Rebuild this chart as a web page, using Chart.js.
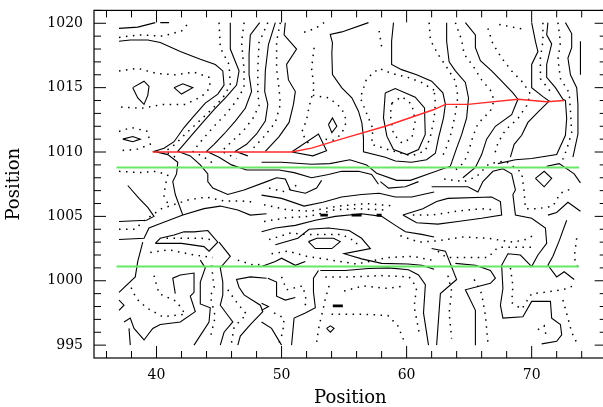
<!DOCTYPE html>
<html>
<head>
<meta charset="utf-8">
<script src="https://cdn.jsdelivr.net/npm/chart.js@4"></script>
<style>
  html, body { margin: 0; padding: 0; background: #fff; overflow: hidden; }
</style>
</head>
<body>
<canvas id="chart" width="610" height="407"></canvas>
<script>
'use strict';

// axis ticks
var xTicks = [40, 50, 60, 70];
var yTicks = [995, 1000, 1005, 1010, 1015, 1020];

// ridge line (red) and the two guide lines (green)
var ridgeLine = [[39.7, 1010], [50.8, 1010], [52.4, 1010.3], [55.1, 1011.1], [58.3, 1012], [62.2, 1013.3],
  [63.1, 1013.7], [64.9, 1013.7], [68.9, 1014.1], [71.2, 1013.9], [72.6, 1014]];
var guideUpper = [[36.8, 1008.8], [73.8, 1008.8]];
var guideLower = [[36.8, 1001.1], [73.8, 1001.1]];

// solid contours, upper half
var solidUpper = [
  [[37, 1019.6], [38.5, 1019.7], [39.9, 1020.05]],
  [[40.3, 1020.05], [41, 1020.05]],
  [[37, 1018.6], [37.9, 1018.7], [39.3, 1018.7], [40.3, 1018.5], [41.9, 1017.8], [43.5, 1017.2], [44.7, 1016.8],
    [45.3, 1016.3], [45.4, 1015.2], [44.9, 1014.5], [43.9, 1013.8], [43, 1012.8], [42.2, 1011.9], [41.4, 1010.8],
    [40.6, 1010.3], [39.8, 1010.05], [40.9, 1009.8], [41.7, 1009.2], [41.6, 1008.3], [41.3, 1007.7], [41.5, 1006.7], [42.1, 1005.1]],
  [[38.1, 1015], [39, 1015.5], [39.4, 1015.1], [39.3, 1014.4], [39, 1013.7], [38.5, 1014.2], [38.1, 1015]],
  [[41.4, 1015], [42.1, 1015.3], [42.9, 1015], [42, 1014.5], [41.4, 1015]],
  [[37.3, 1011], [38.1, 1011.2], [38.7, 1011], [38.1, 1010.8], [37.3, 1011]],
  [[45.9, 1020.05], [45.9, 1018], [46.6, 1016.3], [46.4, 1015.2], [45.6, 1014.3], [44.6, 1013.3], [43.7, 1012.3],
    [42.8, 1011.3], [42.1, 1010.5], [41.7, 1010.05], [42.7, 1009.7], [43.5, 1009], [44.1, 1008.3], [44.1, 1007.7],
    [44.5, 1007.2], [45.7, 1006.7], [47, 1007.05], [48.8, 1007.7], [49.6, 1008], [50.3, 1007.9], [50.7, 1007.05],
    [51.9, 1006.8], [52.8, 1007.2], [53.2, 1007.8]],
  [[48.25, 1020.05], [47.5, 1019.1], [47.4, 1017.6], [47.4, 1016], [47.6, 1014.7], [47.1, 1013.4], [46.3, 1012.4],
    [45.4, 1011.4], [44.6, 1010.6], [44, 1010.05], [45, 1009.6], [46, 1009], [47.2, 1008.6], [48.4, 1008.6],
    [49.8, 1008.6], [51, 1008.4], [52.4, 1008], [53.75, 1008.25], [54.8, 1008.5], [56.15, 1008.5], [57.2, 1008.25], [57.75, 1007.5]],
  [[49.5, 1020.05], [48.95, 1018.35], [48.7, 1016.3], [48.65, 1014.7], [48.9, 1013.7], [48.7, 1012.4], [48, 1011.4],
    [47.2, 1010.6], [46.3, 1010.05], [47.3, 1009.7]],
  [[50.3, 1020.05], [50.2, 1019.1], [51.2, 1018], [50.4, 1016.8], [50.55, 1015.6], [51.1, 1014.7], [50.95, 1013.7],
    [50.6, 1012.3], [49.8, 1011.2], [48.7, 1010.05]],
  [[50.8, 1010], [52.95, 1011.4], [53.6, 1010.1], [52.5, 1009.7], [50.8, 1010]],
  [[53.75, 1012.13], [54.07, 1012.65], [54.42, 1012], [54.02, 1011.5], [53.75, 1012.13]],
  [[56.95, 1020.05], [54.82, 1019.33], [53.89, 1019.13], [54.07, 1018.48], [54.02, 1017.7], [54.07, 1016.02],
    [54.82, 1014.98], [55.62, 1014.21], [56.15, 1013.17], [56.42, 1012.26], [56.55, 1011.1], [56.55, 1010.01],
    [58.3, 1009.6], [59.1, 1009.3], [60.4, 1009.2], [61.6, 1009.4], [62.3, 1009.9], [62.55, 1011.1], [62.95, 1012.65],
    [63.1, 1013.7], [62.9, 1014.6], [62, 1015.5], [60.8, 1016], [59.6, 1016.4], [58.8, 1016.8], [58.8, 1018.6], [58.95, 1020.05]],
  [[58.29, 1014.59], [59.09, 1014.93], [60.69, 1014.26], [61.43, 1013.43], [61.49, 1011.36], [60.95, 1010.19],
    [60.02, 1009.8], [58.95, 1010.19], [58.42, 1011.23], [58.15, 1012.65], [58.29, 1014.59]],
  [[63.2, 1020.05], [63.2, 1018.6], [63.4, 1017], [63.9, 1016.3], [64.7, 1015.4], [64.95, 1014.2], [64.9, 1013.7],
    [64.8, 1012.65], [64.4, 1011.35], [64, 1010.3], [63.5, 1008.9], [61.9, 1008.35], [60.3, 1007.8], [59.2, 1007.8],
    [57.6, 1008.35], [56.8, 1009], [55.46, 1009.4], [53.86, 1009.1], [52.4, 1009.05], [50, 1009.2], [48.4, 1009.2]],
  [[64.7, 1020.05], [65.5, 1019.1], [65.5, 1018.1], [65.9, 1017.1], [66.8, 1016.3], [67.6, 1015.5], [68.5, 1014.6],
    [68.9, 1014.1], [68.4, 1012.9], [67.1, 1012], [66.4, 1011], [66, 1009.8], [65.5, 1008.8], [64.5, 1008]],
  [[70, 1020.05], [70.3, 1018.6], [70.5, 1017.8], [70, 1016.8], [70, 1015], [70.9, 1014.3], [71.4, 1013.95],
    [70.6, 1013.2], [69.7, 1012.3], [69.2, 1011.3], [68.6, 1010.6], [68.3, 1009.6]],
  [[71.3, 1020.05], [71.2, 1019.1], [71.6, 1018.4], [71.2, 1016.8], [71.2, 1015.8], [71.9, 1015], [72.5, 1014.1],
    [72.7, 1014], [72.8, 1012.6], [72.7, 1011.3], [72, 1009.8], [70, 1009.5], [68.7, 1009.4], [67.3, 1009.1]],
  [[72.7, 1020.05], [73.2, 1019.2], [73.2, 1018.1], [72.9, 1017.3], [73.1, 1016], [73.6, 1015], [73.7, 1013.7],
    [73.7, 1011.4], [73.3, 1009.6]],
  [[73.9, 1018.6], [73.9, 1016]]
];

// solid contours, lower half
var solidLower = [
  [[37.7, 1007.4], [38.6, 1006.4], [39.3, 1005.7], [39.8, 1005], [39.2, 1004.7], [37, 1004.6]],
  [[37, 1003.2], [39, 1003.3], [39.4, 1004.1], [39.9, 1004.3], [42.1, 1005.1], [43.8, 1005.6], [45.1, 1005.8],
    [46.5, 1005.5], [47.5, 1005.1], [48.8, 1005.2]],
  [[48.4, 1003.8], [49.5, 1004.1], [51.1, 1004.3], [52.7, 1004.7], [54.3, 1005], [56.4, 1005.2], [58, 1005],
    [59.1, 1004.3], [59.9, 1003.8], [61.2, 1003.6], [62.2, 1003.4]],
  [[39.9, 1002.9], [40.3, 1003.3], [41.4, 1003.55], [42.2, 1003.8], [43, 1003.8], [44.1, 1003.9], [44.9, 1003],
    [44.2, 1002.3], [43.8, 1002.65], [42, 1002.9], [40.5, 1002.9], [39.9, 1002.9]],
  [[38.9, 1003], [38.5, 1001.5], [38.3, 1000.3], [37, 999.1]],
  [[37, 998.5], [37.4, 998.1], [37, 997.7]],
  [[37.8, 996.3], [37.9, 995]],
  [[41.5, 999], [41.3, 1000.2], [41.9, 1000.45], [43, 1000.6], [43, 999.1], [42.7, 998.8], [43.1, 997.6],
    [41.9, 996.8], [40.3, 996.6], [39.7, 996.3], [39, 995.4], [38.2, 996.3], [37.9, 997.1], [37.4, 996.8]],
  [[43.5, 1001.6], [43.9, 1001], [43.5, 999.9], [43.5, 998.2], [44.3, 997.9], [44.2, 996.8], [43, 995]],
  [[45, 1003], [45.9, 1001.9], [45.1, 1001], [45.3, 999.9], [45.3, 998.9], [45.1, 998.1], [46.1, 996.8],
    [45.4, 996], [45.1, 995]],
  [[48.8, 1000.2], [47.5, 1000.3], [46.4, 1000.1], [46.6, 999.5], [47, 998.9], [48.3, 998.1], [48.5, 997.6],
    [47.5, 996.6], [46.7, 995.7], [46.5, 995]],
  [[57.9, 1007.7], [58.55, 1007.2], [59.9, 1007.3], [60.95, 1007.7]],
  [[48.4, 1006.65], [50, 1006.4], [51.8, 1005.8], [53.3, 1006.1], [54.8, 1006.5], [56.4, 1006.7], [57.8, 1006.8],
    [59.1, 1006.5], [60.4, 1006.5], [62.2, 1006.9]],
  [[52.15, 1003.04], [52.82, 1003.3], [54.15, 1003.3], [54.69, 1003.04], [54.02, 1002.5], [52.69, 1002.5], [52.15, 1003.04]],
  [[49.5, 1002.8], [51.3, 1003.3], [52.2, 1004], [53.75, 1004.1], [55.4, 1003.9], [56.4, 1003.3], [57.1, 1002.5],
    [55, 1002.1], [56.4, 1001.7], [58, 1001.35], [60.1, 1001.3], [61.2, 1001.2], [62.2, 1000.9]],
  [[53.1, 1000.8], [55.1, 1000.8], [56.95, 1000.95], [58.55, 1001], [60.15, 1000.85], [60.95, 1000.45], [61.5, 999.7],
    [61.35, 997.5], [61.75, 995]],
  [[52.95, 1000.8], [52.55, 1000.2], [52.55, 999.15], [52.7, 997.9], [51.9, 997.5], [51, 997.1], [50.8, 995]],
  [[48.4, 1001.1], [49.5, 1001.5], [50, 1001.75], [51.1, 1001.2], [51.9, 1001.5]],
  [[48.9, 1000.2], [49.6, 999.9], [49.6, 998.8], [50.3, 998.5], [51.1, 998.7]],
  [[48.4, 996.8], [49.2, 996.3], [50, 995]],
  [[48.4, 998.25], [48.95, 998], [48.4, 997.7]],
  [[53.6, 996.3], [53.9, 996.5], [54.2, 996.3], [53.9, 996], [53.6, 996.3]],
  [[62, 1007.3], [64.9, 1007.3], [65.7, 1006.9], [66.1, 1007.7], [66.9, 1008.5], [67.7, 1008.7], [68.4, 1008.3],
    [68.7, 1007.05], [68.5, 1006.7], [68.7, 1005.1], [70, 1004.85], [71.1, 1004.1], [71.2, 1002.9], [70.5, 1002],
    [70, 1001.1], [69.1, 1002], [68.1, 1002.1], [67.6, 1001.2], [67.7, 999.4], [67.5, 998.1], [67.7, 997.1],
    [69.3, 997.2], [70, 998.4], [71.5, 998.4], [71.6, 997.1], [72.3, 996.6], [72.4, 995.8], [72, 995.3], [70.8, 995.1]],
  [[59.7, 1005.1], [61.3, 1005.6], [62.4, 1006.15], [63.3, 1006.4], [66.8, 1006.5], [67.5, 1006.15], [67.6, 1005.1],
    [66, 1004.85], [64.1, 1004.6], [62.5, 1004.4], [60.8, 1004.5], [59.7, 1005.1]],
  [[70.3, 1007.95], [71, 1008.5], [71.6, 1007.95], [71, 1007.3], [70.3, 1007.95]],
  [[71.2, 1008.9], [72.2, 1009.1], [73.4, 1008.3], [73.9, 1007.6]],
  [[71.3, 1005.1], [72, 1005.3], [72.9, 1006.1], [73.9, 1005.4]],
  [[72.8, 1004.7], [72.2, 1003.1], [71.7, 1001.9], [71.3, 1001.2], [72, 1000.3], [72.6, 1000.7], [73.4, 1000.1]],
  [[62, 1002.5], [63.1, 1002.3], [64, 1000.1], [62.7, 999], [62.4, 995]],
  [[63.9, 1001.35], [65.5, 1001.2], [66.7, 1000.8], [67.1, 1000.2], [66.7, 999.8], [64.7, 999.3], [65.5, 997.7], [65.5, 995]]
];

// tiny closed contours drawn as short heavy dashes
var blobs = [
  [[53.1, 1005.1], [53.7, 1005.1]],
  [[55.6, 1005.1], [56.4, 1005.1]],
  [[57.6, 1005.1], [58, 1005.1]],
  [[54.1, 998.05], [54.9, 998.05]]
];

// dotted contours (intermediate levels)
var dottedUpper = [
  [[37, 1018.9], [38.6, 1019.1], [40.5, 1019], [42, 1019.4], [42.6, 1020.05]],
  [[37, 1016.3], [38.5, 1016.5], [40, 1016.1], [41.5, 1016], [43, 1016.2], [44.2, 1015.8], [44.3, 1015], [43.6, 1014.3],
    [42.3, 1013.7], [40.5, 1013.7], [38.8, 1013.4], [37, 1013.5]],
  [[37, 1011.6], [38, 1011.9], [39.3, 1011.6], [39.5, 1010.6], [38.4, 1010.2], [37, 1010.1]],
  [[45, 1020.05], [45.1, 1018.1], [45.8, 1016.8], [45.9, 1015.2], [45.3, 1014.2], [44.3, 1013.2], [43.3, 1012.3],
    [42.3, 1011.4], [41.5, 1010.6], [40.7, 1010.05], [41.5, 1009.6]],
  [[47, 1020.05], [46.8, 1018.5], [47, 1016.4], [47, 1015], [46.4, 1014], [45.6, 1013], [44.6, 1012], [43.7, 1011],
    [42.9, 1010.05], [43.8, 1009.6], [44.7, 1009]],
  [[48.9, 1020.05], [48.2, 1018.5], [48.1, 1016.5], [48.1, 1014.7], [48.2, 1013.6], [47.7, 1012.6], [46.9, 1011.6],
    [46, 1010.8], [45.2, 1010.05], [46.4, 1009.5]],
  [[49.9, 1020.05], [49.6, 1018.6], [49.6, 1016.5], [49.8, 1014.9], [49.9, 1013.7], [49.5, 1012.3], [48.6, 1011.2], [47.5, 1010.05]],
  [[51.8, 1019.3], [52.7, 1019.6], [53.4, 1020.05]],
  [[52.6, 1018.1], [52.4, 1016.5], [52.6, 1015], [52.2, 1013.5], [52, 1012.5], [51.6, 1011.5], [52.2, 1010.6]],
  [[52.5, 1014.4], [53.8, 1014.2], [54.8, 1013.4], [55.2, 1012.4], [54.8, 1011.4], [54.1, 1010.9], [53.4, 1011]],
  [[62.2, 1014.8], [61.2, 1015.4], [60.1, 1015.8], [58.8, 1016.1], [57.8, 1016.5], [56.8, 1015.7], [56.3, 1014.2],
    [56.8, 1013], [57.3, 1011.8], [57.2, 1010.6], [58.8, 1010.1], [60.4, 1009.7], [61.5, 1010.1], [61.9, 1011.2],
    [62.2, 1012.6], [62.3, 1013.8], [62.2, 1014.8]],
  [[58.82, 1013.8], [59.62, 1014.3], [60.42, 1013.7], [60.69, 1012.4], [60.42, 1011.1], [59.62, 1010.7], [58.95, 1011.4],
    [58.69, 1012.9], [58.82, 1013.8]],
  [[57.8, 1019.4], [58, 1018.2]],
  [[61.8, 1020.05], [61.9, 1018.7], [62.5, 1017.6], [63.2, 1016.6], [63.9, 1015.5], [64.1, 1014.3], [63.9, 1013],
    [63.6, 1011.6], [63.2, 1010.4], [62.8, 1009.5]],
  [[63.9, 1020.05], [64.4, 1018.7], [64.6, 1017.6], [65.3, 1016.7], [66, 1015.6], [66.7, 1014.8], [67, 1014], [66.7, 1013.2],
    [65.7, 1012.2], [65.3, 1011.2], [65, 1010.2], [64.6, 1009.2], [63.9, 1008.6]],
  [[66.5, 1019.6], [66.9, 1018.4], [67.6, 1017.3], [68.4, 1016.3], [69.3, 1015.4], [69.9, 1014.5], [69.6, 1013.6],
    [68.9, 1012.6], [67.9, 1011.7], [67.3, 1010.7], [67, 1009.7]],
  [[67.4, 1019.9], [68.5, 1019.7], [69.5, 1019.5]],
  [[70.9, 1020.05], [70.9, 1018.6], [70.7, 1017.3], [70.7, 1015.7], [71.5, 1014.7]],
  [[72.1, 1020.05], [72.3, 1018.5], [72.1, 1017.2], [72.3, 1015.7], [73, 1014.6], [73.1, 1013.2], [73.2, 1011.5],
    [72.8, 1010.2], [72.4, 1009.2]]
];

var dottedLower = [
  [[37, 1008.5], [38.6, 1008.4], [40, 1008.5], [40.9, 1008.2], [40.7, 1007.4], [40.6, 1006.6], [41, 1005.8]],
  [[37, 1004], [38.3, 1004], [38.9, 1004.6], [40.4, 1005.6], [42.6, 1006.3], [44, 1006.5], [45.4, 1006.2], [46.8, 1006.2], [48, 1006.1]],
  [[39.5, 1002.2], [41, 1002.4], [43, 1002], [44.5, 1001.8]],
  [[40.8, 1003.3], [42, 1003.3], [43.6, 1003.3], [44.3, 1003.2]],
  [[39.8, 1000.4], [40.2, 999], [41.6, 998.4], [42.3, 997.4], [40.5, 997.2], [39.2, 997.9], [38.4, 998.6], [37.8, 999.8]],
  [[44.4, 1001.2], [44.6, 999.5], [44.3, 998.8], [44.7, 997.2], [44.3, 995.6]],
  [[46.5, 1001.6], [47.8, 1001.2], [48.6, 1001.3]],
  [[45.7, 999.3], [46.5, 998.2], [47.2, 997.4], [46.2, 996.4], [46, 995.2]],
  [[49, 1007.2], [50.3, 1006.9], [51.5, 1007.6]],
  [[48.6, 1005.9], [50.5, 1005.5], [52.3, 1005.4], [54.5, 1005.8], [56.8, 1006], [59, 1005.8]],
  [[48.6, 1004.6], [50.4, 1004.9], [52.2, 1005], [54.2, 1005.5], [56, 1005.6], [58.2, 1005.5]],
  [[49, 1003.2], [50.7, 1003.7], [52, 1003.6], [54.8, 1003.6], [56, 1003], [56, 1002.4]],
  [[49.2, 1002.1], [50.5, 1002.3], [52, 1001.9], [54, 1001.6], [56, 1001.3], [58.5, 1001.8], [60.5, 1001.9], [62, 1001.6]],
  [[53.5, 1000.3], [55.5, 1000.3], [58, 1000.4], [60.2, 1000.3], [60.8, 999.5], [60.6, 998], [61, 996]],
  [[55, 999.2], [56.5, 999.6], [58.5, 999.4], [59.8, 999.6]],
  [[53.8, 999.6], [53.5, 998.6], [53.3, 997.7], [53, 996.5], [52.8, 995.2]],
  [[54, 997.4], [56.5, 997.4], [58.5, 997.3], [59.3, 996.5], [59.8, 995.3]],
  [[50, 1000.3], [50.4, 999.3], [51.7, 999.6], [52, 998.4], [51.8, 997.9]],
  [[49.4, 997.5], [50.2, 997.1], [50.1, 996], [49.8, 995.2]],
  [[59.5, 1003.5], [61, 1003], [62.5, 1003.1], [64.5, 1003.4], [66.5, 1003.3], [68.5, 1003], [69.5, 1003.2], [70.3, 1003.6]],
  [[60.5, 1005.1], [62, 1005.1], [64, 1005.4], [66, 1005.6], [67, 1005.5]],
  [[63, 1007.9], [64.6, 1007.7], [65.6, 1008.1], [66.6, 1009.1], [67.9, 1009.3], [69.2, 1008.4], [69.4, 1006.9],
    [69.5, 1005.6], [70.5, 1005.6], [71.7, 1005.8], [72.3, 1006.8], [73.3, 1007.2]],
  [[62.5, 1002.3], [63.2, 1001.8], [64.8, 1001.8], [66.5, 1001.8], [67.3, 1002.6], [68.6, 1002.6], [69.6, 1002.6], [70.3, 1002.6]],
  [[63.3, 1000.4], [63.6, 999.2], [63.4, 997.5], [63.6, 995.5]],
  [[65.4, 1000.1], [66, 999], [66.3, 997.3], [66.5, 995.2]],
  [[68.3, 1001], [68.5, 999.6], [68.4, 998.3], [69.2, 997.8], [70, 999], [71, 999.1], [72.5, 999.3], [73.6, 999.7]],
  [[73.6, 1003.3], [73.4, 1001.8], [73.7, 1001]],
  [[72.5, 998.5], [72.9, 997.1], [73.2, 996], [73.6, 995.2]],
  [[70.5, 996.2], [71, 996.5], [71.2, 995.5]]
];

function toPoints(line) {
  return line.map(function (p) {
    return { x: p[0], y: p[1] };
  });
}

function lineSet(line, options) {
  return Object.assign({
    data: toPoints(line),
    showLine: true,
    pointRadius: 0,
    borderColor: '#000',
    borderWidth: 1.1,
    fill: false,
    tension: 0,
    order: 2
  }, options || {});
}

var datasets = [];
datasets.push(lineSet(ridgeLine, { borderColor: '#ff2a2a', borderWidth: 1.4, order: 0 }));
datasets.push(lineSet(guideUpper, { borderColor: '#66e866', borderWidth: 2, order: 0 }));
datasets.push(lineSet(guideLower, { borderColor: '#66e866', borderWidth: 2, order: 0 }));
solidUpper.concat(solidLower).forEach(function (line) {
  datasets.push(lineSet(line));
});
blobs.forEach(function (line) {
  datasets.push(lineSet(line, { borderWidth: 2.6 }));
});
dottedUpper.concat(dottedLower).forEach(function (line) {
  datasets.push(lineSet(line, { borderWidth: 1.5, borderDash: [1.5, 5.5], order: 1 }));
});

// frame with inward ticks on all four sides
var framePlugin = {
  id: 'frame',
  afterDatasetsDraw: function (chart) {
    var ctx = chart.ctx,
      area = chart.chartArea,
      xs = chart.scales.x,
      ys = chart.scales.y,
      v, px, len;
    ctx.save();
    ctx.strokeStyle = '#000';
    ctx.lineWidth = 1.2;
    ctx.strokeRect(area.left, area.top, area.right - area.left, area.bottom - area.top);
    ctx.lineWidth = 1;
    ctx.beginPath();
    for (v = 36; v <= 76; v += 2) {
      px = xs.getPixelForValue(v);
      len = v % 10 === 0 ? 12 : 7;
      ctx.moveTo(px, area.bottom);
      ctx.lineTo(px, area.bottom - len);
      ctx.moveTo(px, area.top);
      ctx.lineTo(px, area.top + len);
    }
    for (v = 995; v <= 1021; v += 1) {
      px = ys.getPixelForValue(v);
      len = v % 5 === 0 ? 12 : 7;
      ctx.moveTo(area.left, px);
      ctx.lineTo(area.left + len, px);
      ctx.moveTo(area.right, px);
      ctx.lineTo(area.right - len, px);
    }
    ctx.stroke();
    ctx.restore();
  }
};

// keep the plot box where it is: no automatic room for edge labels
function noEdgePadding(scale) {
  scale.paddingTop = 0;
  scale.paddingBottom = 0;
  scale.paddingLeft = 0;
  scale.paddingRight = 0;
}

function plainLabel(value) {
  return String(value);
}

var tickFont = { family: 'DejaVu Serif', size: 14 };
var titleFont = { family: 'DejaVu Serif', size: 18 };

new Chart(document.getElementById('chart'), {
  type: 'scatter',
  data: { datasets: datasets },
  options: {
    responsive: false,
    animation: false,
    events: [],
    layout: { padding: { top: 10.4, right: 3.3, left: 0, bottom: 0 } },
    plugins: { legend: { display: false }, tooltip: { enabled: false } },
    scales: {
      x: {
        type: 'linear',
        min: 35,
        max: 76,
        afterBuildTicks: function (scale) {
          scale.ticks = xTicks.map(function (v) { return { value: v }; });
        },
        afterFit: function (scale) {
          scale.height = 49;
          noEdgePadding(scale);
        },
        grid: { display: false, drawTicks: false },
        border: { display: false },
        ticks: { font: tickFont, color: '#000', padding: 9, maxRotation: 0, callback: plainLabel },
        title: { display: true, text: 'Position', font: titleFont, color: '#000', padding: { top: 0, bottom: -2 } }
      },
      y: {
        type: 'linear',
        min: 994,
        max: 1021,
        afterBuildTicks: function (scale) {
          scale.ticks = yTicks.map(function (v) { return { value: v }; });
        },
        afterFit: function (scale) {
          scale.width = 94;
          noEdgePadding(scale);
        },
        grid: { display: false, drawTicks: false },
        border: { display: false },
        ticks: { font: tickFont, color: '#000', padding: 11, callback: plainLabel },
        title: { display: true, text: 'Position', font: titleFont, color: '#000', padding: { top: 4, bottom: 0 } }
      }
    }
  },
  plugins: [framePlugin]
});
</script>
</body>
</html>
